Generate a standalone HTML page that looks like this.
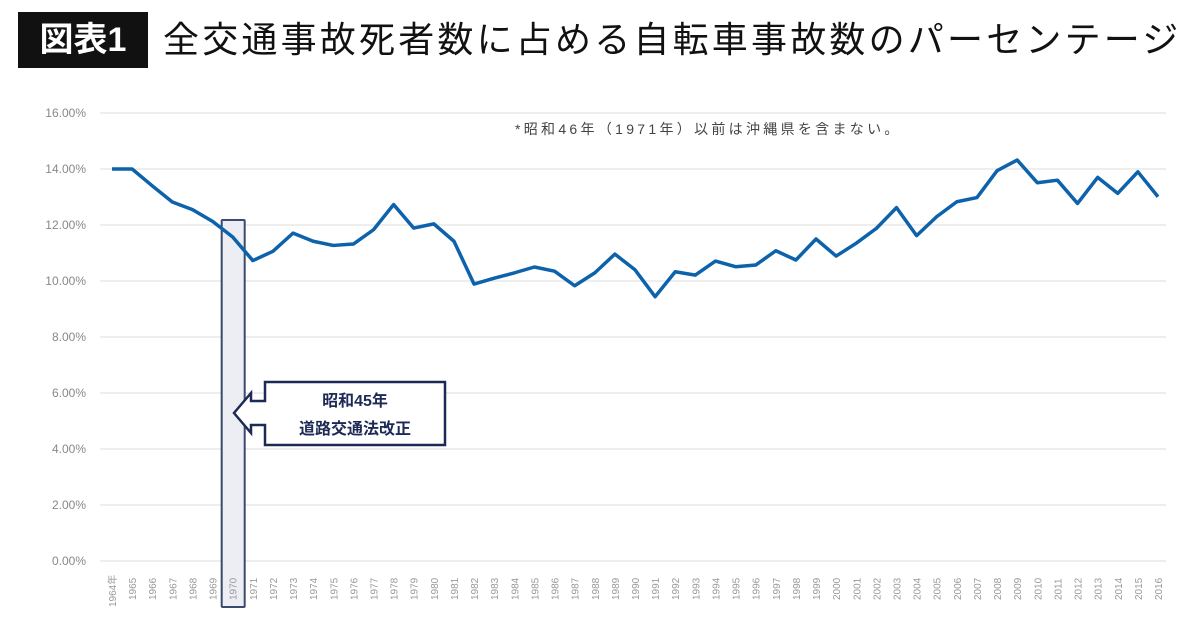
<!DOCTYPE html>
<html><head><meta charset="utf-8">
<style>
body{margin:0;background:#fff;width:1200px;height:620px;overflow:hidden;font-family:"Liberation Sans","Noto Sans CJK JP",sans-serif;}
#title-badge{position:absolute;left:18px;top:12px;width:130px;height:56px;background:#111;color:#fff;font-size:34px;font-weight:bold;line-height:56px;text-align:center;}
#title-text{position:absolute;left:163px;top:12px;height:56px;line-height:56px;font-size:36px;color:#111;letter-spacing:3.2px;white-space:nowrap;}
svg{position:absolute;left:0;top:0;}
</style></head><body>
<div id="title-badge">図表1</div>
<div id="title-text">全交通事故死者数に占める自転車事故数のパーセンテージ</div>
<svg id="chart" width="1200" height="620"></svg>
<script>
const years=[];for(let y=1964;y<=2016;y++)years.push(y);
const values=[14.0,14.0,13.4,12.82,12.55,12.13,11.57,10.73,11.06,11.71,11.42,11.27,11.32,11.83,12.73,11.89,12.04,11.42,9.89,10.1,10.29,10.5,10.35,9.83,10.29,10.96,10.4,9.44,10.33,10.21,10.71,10.51,10.57,11.08,10.75,11.5,10.89,11.35,11.88,12.62,11.62,12.3,12.83,12.98,13.94,14.32,13.51,13.6,12.77,13.7,13.13,13.9,13.01];
const yTicks=[0,2,4,6,8,10,12,14,16];
const NS="http://www.w3.org/2000/svg";
const svg=document.getElementById('chart');
const x0=112,x1=1158,y0=561,yPer=28;
function X(i){return x0+(x1-x0)*i/(years.length-1);}
function Y(v){return y0-v*yPer;}
function mk(t,a,p){const e=document.createElementNS(NS,t);for(const k in a)e.setAttribute(k,a[k]);(p||svg).appendChild(e);return e;}
yTicks.forEach(v=>{
 const g=mk('line',{x1:100,x2:1166,y1:Y(v),y2:Y(v),stroke:'#e8e8e8','stroke-width':1.5});
 
 
 const t=mk('text',{x:86,y:Y(v)+4,'text-anchor':'end','font-size':12,fill:'#888'});
 t.textContent=v.toFixed(2)+'%';
 
 
});
const hi=mk('rect',{x:X(6)-11,y:220,width:23,height:387,fill:'#eceef4',stroke:'#3c4a6e','stroke-width':2,rx:1});


years.forEach((yr,i)=>{
 const t=mk('text',{transform:`translate(${X(i)+4},${i==0?607:600}) rotate(-90)`,'font-size':10,fill:'#999'});
 t.textContent=i==0?yr+'年':yr;
 
 
});
const line=mk('polyline',{points:values.map((v,i)=>X(i)+','+Y(v)).join(' '),fill:'none',stroke:'#0d62ac','stroke-width':3.5,'stroke-linejoin':'round'});


const note=mk('text',{x:515,y:134,'font-size':14,fill:'#444','letter-spacing':3.3});
note.textContent='*昭和46年（1971年）以前は沖縄県を含まない。';


const co=mk('path',{d:'M265,382 H445 V445 H265 V425 H251 V433 L234,413 L251,393 V401 H265 Z',fill:'#fff',stroke:'#1d2a55','stroke-width':2.5});


const c1=mk('text',{x:355,y:406,'text-anchor':'middle','font-size':16,'font-weight':'bold',fill:'#1d2a55'});
c1.textContent='昭和45年';


const c2=mk('text',{x:355,y:434,'text-anchor':'middle','font-size':16,'font-weight':'bold',fill:'#1d2a55'});
c2.textContent='道路交通法改正';


</script>
</body></html>
